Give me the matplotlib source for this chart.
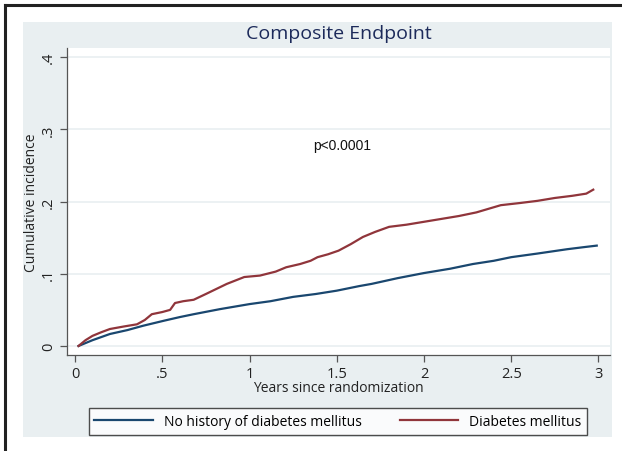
import matplotlib.pyplot as plt
from matplotlib.patches import Rectangle
from matplotlib.lines import Line2D

# Cumulative incidence
years_no_dm = [0.02, 0.10, 0.20, 0.30, 0.39, 0.51, 0.60, 0.68, 0.83, 1.00, 1.12, 1.25, 1.38,
               1.50, 1.63, 1.70, 1.85, 2.00, 2.15, 2.28, 2.40, 2.50, 2.65, 2.82, 2.92, 2.99]
inc_no_dm = [0.0, 0.008, 0.0166, 0.022, 0.028, 0.035, 0.040, 0.044, 0.051, 0.058, 0.062, 0.068, 0.072,
             0.0766, 0.083, 0.086, 0.094, 0.101, 0.107, 0.1135, 0.118, 0.123, 0.128, 0.134, 0.137, 0.139]

years_dm = [0.02, 0.06, 0.10, 0.15, 0.20, 0.28, 0.355, 0.40, 0.44, 0.50, 0.545, 0.573, 0.62, 0.68,
            0.75, 0.87, 0.97, 1.06, 1.15, 1.21, 1.29, 1.35, 1.39, 1.45, 1.51, 1.58, 1.65, 1.72,
            1.80, 1.90, 2.00, 2.10, 2.20, 2.30, 2.44, 2.55, 2.65, 2.75, 2.85, 2.93, 2.97]
inc_dm = [0.0, 0.008, 0.014, 0.019, 0.0235, 0.027, 0.030, 0.036, 0.044, 0.047, 0.050, 0.0595, 0.062, 0.064,
          0.072, 0.086, 0.0955, 0.0975, 0.103, 0.109, 0.1135, 0.118, 0.123, 0.127, 0.132, 0.141, 0.151, 0.158,
          0.165, 0.168, 0.172, 0.176, 0.180, 0.185, 0.195, 0.198, 0.201, 0.205, 0.208, 0.211, 0.2165]

series_labels = ["No history of diabetes mellitus", "Diabetes mellitus"]
x_ticks = [0, 0.5, 1, 1.5, 2, 2.5, 3]
x_ticklabels = ["0", ".5", "1", "1.5", "2", "2.5", "3"]
y_ticks = [0, 0.1, 0.2, 0.3, 0.4]
y_ticklabels = ["0", ".1", ".2", ".3", ".4"]

NAVY = "#1a476f"
MAROON = "#90353b"
BG = "#e9eff1"
W, H = 622, 452


def main():
    plt.rcParams['font.family'] = ['Open Sans', 'DejaVu Sans']
    fig = plt.figure(figsize=(W / 100, H / 100), dpi=100)

    # outer frame (left and top only are visible in the crop)
    fig.add_artist(Line2D([5 / W, 5 / W], [0, 1 - 6 / H], color="#222222", lw=2.2))
    fig.add_artist(Line2D([5 / W, 1], [1 - 6 / H, 1 - 6 / H], color="#222222", lw=2.2))
    # graph region background
    fig.add_artist(Rectangle((23 / W, 1 - 438 / H), (612 - 23) / W, (438 - 23) / H,
                             transform=fig.transFigure, facecolor=BG, edgecolor="none", zorder=0))

    ax = fig.add_axes([67 / W, 1 - 356 / H, (610 - 67) / W, (356 - 49) / H])
    ax.set_facecolor("white")
    ax.set_zorder(1)

    ax.plot(years_no_dm, inc_no_dm, color=NAVY, lw=1.6, label=series_labels[0])
    ax.plot(years_dm, inc_dm, color=MAROON, lw=1.6, label=series_labels[1])

    ax.set_xlim(-0.046, 3.066)
    ax.set_ylim(-0.0125, 0.4127)
    ax.set_xticks(x_ticks, x_ticklabels)
    ax.set_yticks(y_ticks, y_ticklabels)
    for lab in ax.get_yticklabels():
        lab.set_rotation(90)
        lab.set_va("center")
    ax.tick_params(axis="both", length=5, width=0.9, color="#555555", labelsize=10.5,
                   labelcolor="#222222", pad=3)
    ax.grid(axis="y", color=BG, lw=1.2)
    ax.set_axisbelow(True)
    for side in ["top", "right"]:
        ax.spines[side].set_visible(False)
    for side in ["left", "bottom"]:
        ax.spines[side].set_color("#555555")
        ax.spines[side].set_linewidth(0.9)

    ax.text(1.53, 0.278, "p<0.0001", ha="center", va="center", fontsize=10,
            family=["Liberation Sans", "DejaVu Sans"], color="#111111")

    fig.text(338.5 / W, 1 - 34 / H, "Composite Endpoint", ha="center", va="center",
             fontsize=14, color="#1c2a5a")
    fig.text(338.5 / W, 1 - 389 / H, "Years since randomization", ha="center", va="center",
             fontsize=10, color="#222222")
    fig.text(32 / W, 1 - 203 / H, "Cumulative incidence", ha="center", va="center",
             rotation=90, fontsize=10, color="#222222")

    handles, labels = ax.get_legend_handles_labels()
    leg = fig.legend(handles, labels, ncol=2, mode="expand",
                     bbox_to_anchor=(82 / W, 1 - 437 / H, (594 - 82) / W, (437 - 408) / H),
                     loc="center", fontsize=10, handlelength=4.2, handletextpad=0.8,
                     frameon=True, fancybox=False, borderpad=0.4, columnspacing=2.0)
    leg.get_frame().set_edgecolor("#222222")
    leg.get_frame().set_linewidth(1.0)

    fig.savefig("out.png", dpi=100)


if __name__ == "__main__":
    main()
